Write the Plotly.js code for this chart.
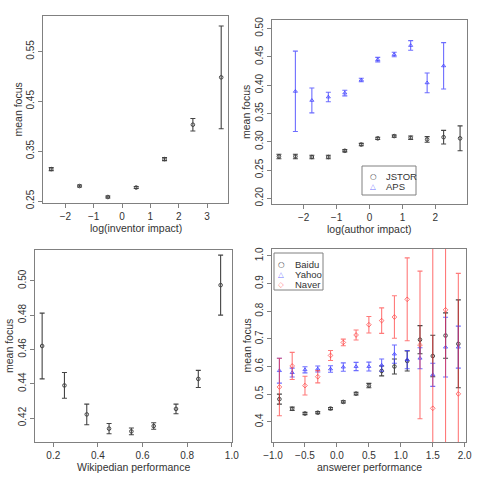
<!DOCTYPE html>
<html>
<head>
<meta charset="utf-8">
<script src="https://cdn.plot.ly/plotly-3.0.1.min.js"></script>
<style>
  html, body { margin: 0; padding: 0; background: #fff; }
  #chart { width: 480px; height: 480px; }
</style>
</head>
<body>
<div id="chart"></div>
<script>
// ── Data ──────────────────────────────────────────────────────────────────────

// top-left: inventors
const invX = [-2.5, -1.5, -0.5, 0.5, 1.5, 2.5, 3.5];
const invY = [0.314, 0.280, 0.258, 0.277, 0.334, 0.403, 0.498];
const invErr = [0.003, 0.002, 0.002, 0.002, 0.003, 0.0125, 0.103];

// top-right: authors
const jstorX = [-2.75, -2.25, -1.75, -1.25, -0.75, -0.25, 0.25, 0.75, 1.25, 1.75, 2.25, 2.75];
const jstorY = [0.274, 0.274, 0.273, 0.273, 0.284, 0.295, 0.306, 0.310, 0.307, 0.304, 0.308, 0.306];
const jstorErr = [0.004, 0.004, 0.003, 0.003, 0.002, 0.002, 0.002, 0.002, 0.003, 0.005, 0.012, 0.022];

const apsX = [-2.25, -1.75, -1.25, -0.75, -0.25, 0.25, 0.75, 1.25, 1.75, 2.25];
const apsY = [0.389, 0.373, 0.379, 0.386, 0.409, 0.445, 0.454, 0.470, 0.404, 0.434];
const apsErr = [0.071, 0.022, 0.0085, 0.005, 0.003, 0.004, 0.004, 0.0085, 0.0175, 0.041];

// bottom-left: Wikipedia
const wikiX = [0.15, 0.25, 0.35, 0.45, 0.55, 0.65, 0.75, 0.85, 0.95];
const wikiY = [0.462, 0.439, 0.4221, 0.4138, 0.4122, 0.4153, 0.4253, 0.4428, 0.4975];
const wikiErr = [0.0192, 0.0075, 0.006, 0.003, 0.002, 0.0019, 0.0028, 0.005, 0.0175];

// bottom-right: Q&A sites
const qaX = [-0.9, -0.7, -0.5, -0.3, -0.1, 0.1, 0.3, 0.5, 0.7, 0.9, 1.1, 1.3, 1.5, 1.7, 1.9];
const baiduY = [0.482, 0.447, 0.430, 0.433, 0.448, 0.472, 0.502, 0.531, 0.584, 0.600, 0.620, 0.697, 0.638, 0.712, 0.682];
const baiduErr = [0.018, 0.006, 0.004, 0.004, 0.004, 0.004, 0.005, 0.008, 0.018, 0.027, 0.036, 0.051, 0.075, 0.082, 0.159];
const yahooY = [0.585, 0.578, 0.588, 0.591, 0.591, 0.598, 0.600, 0.600, 0.605, 0.645, 0.625, 0.630, 0.570, 0.670, 0.670];
const yahooErr = [0.045, 0.016, 0.011, 0.011, 0.012, 0.015, 0.015, 0.016, 0.022, 0.033, 0.033, 0.038, 0.042, 0.108, 0.076];
const naverY = [0.526, 0.602, 0.531, 0.563, 0.640, 0.687, 0.714, 0.751, 0.766, 0.779, 0.843, 0.678, 0.449, 0.805, 0.501];
const naverErr = [0.104, 0.049, 0.034, 0.022, 0.018, 0.012, 0.018, 0.030, 0.046, 0.077, 0.150, 0.267, 0.9, 0.9, 0.436];

const legendTop = ["JSTOR", "APS"];
const legendBottom = ["Baidu", "Yahoo", "Naver"];
const xTitles = ["log(inventor impact)", "log(author impact)", "Wikipedian performance", "answerer performance"];
const yTitle = "mean focus";

// ── Styles ────────────────────────────────────────────────────────────────────

const BLACK = "#444444";
const BLUE = "rgba(60,60,255,0.75)";
const RED = "rgba(255,50,50,0.65)";
const FONT = "Liberation Sans, Arial, sans-serif";
const W = 480, H = 480;

// panel boxes in px: [left, right, top, bottom]
const boxes = [
  [43, 228, 16, 203],
  [272, 467, 20, 204],
  [35, 232, 250, 442],
  [272, 466, 249, 442],
];

function series(x, y, err, color, symbol, xa, ya) {
  return {
    type: "scatter",
    mode: "markers",
    x, y,
    xaxis: xa, yaxis: ya,
    showlegend: false,
    marker: { symbol, size: 3.6, color, line: { width: 1 } },
    error_y: { type: "data", array: err, visible: true, color, thickness: 1.1, width: 2.5 },
    hoverinfo: "x+y",
  };
}

function axis(box, isY, range, dtick, tick0, fmt, anchor) {
  const domain = isY
    ? [1 - box[3] / H, 1 - box[2] / H]
    : [box[0] / W, box[1] / W];
  return {
    domain, range, dtick, tick0, tickformat: fmt,
    anchor,
    showgrid: false, zeroline: false,
    showline: true, mirror: true, linecolor: "#808080", linewidth: 1,
    ticks: "outside", ticklen: 4, tickcolor: "#808080",
    tickangle: isY ? -90 : 0,
    tickfont: { size: 10, color: "#333", family: FONT },
  };
}

const traces = [
  series(invX, invY, invErr, BLACK, "circle-open", "x", "y"),
  series(jstorX, jstorY, jstorErr, BLACK, "circle-open", "x2", "y2"),
  series(apsX, apsY, apsErr, BLUE, "triangle-up-open", "x2", "y2"),
  series(wikiX, wikiY, wikiErr, BLACK, "circle-open", "x3", "y3"),
  series(qaX, baiduY, baiduErr, BLACK, "circle-open", "x4", "y4"),
  series(qaX, yahooY, yahooErr, BLUE, "triangle-up-open", "x4", "y4"),
  series(qaX, naverY, naverErr, RED, "diamond-open", "x4", "y4"),
];

const shapes = [];
const annotations = [];

// ── Axis titles (R places them at a fixed line offset from the box) ───────────

boxes.forEach((b, i) => {
  annotations.push({
    xref: "paper", yref: "paper",
    x: (b[0] + b[1]) / 2 / W, y: 1 - (b[3] + 25) / H,
    text: xTitles[i], showarrow: false, xanchor: "center", yanchor: "middle",
    font: { size: 10.5, color: "#333", family: FONT },
  });
  annotations.push({
    xref: "paper", yref: "paper",
    x: (b[0] - 26) / W, y: 1 - (b[2] + b[3]) / 2 / H,
    text: yTitle, textangle: -90, showarrow: false, xanchor: "center", yanchor: "middle",
    font: { size: 10.5, color: "#333", family: FONT },
  });
});

// ── Legends (R-style boxed keys) ──────────────────────────────────────────────

function addLegend(box, symX, textX, rows, labels, glyphs, colors) {
  shapes.push({
    type: "rect", xref: "paper", yref: "paper",
    x0: box[0] / W, x1: box[1] / W, y0: 1 - box[3] / H, y1: 1 - box[2] / H,
    line: { color: "#808080", width: 1 }, fillcolor: "#fff",
  });
  labels.forEach((lab, i) => {
    annotations.push({
      xref: "paper", yref: "paper", x: symX / W, y: 1 - rows[i] / H,
      text: glyphs[i], showarrow: false, xanchor: "center", yanchor: "middle",
      font: { size: 7.5, color: colors[i], family: "DejaVu Sans" },
    });
    annotations.push({
      xref: "paper", yref: "paper", x: textX / W, y: 1 - rows[i] / H,
      text: lab, showarrow: false, xanchor: "left", yanchor: "middle",
      font: { size: 9.5, color: "#333", family: FONT },
    });
  });
}

addLegend([362, 416, 166, 195], 373, 384, [176, 186.5], legendTop,
  ["○", "△"], [BLACK, BLUE]);
addLegend([274, 323, 253, 290], 281, 293, [264.5, 274.5, 284.5], legendBottom,
  ["○", "△", "◇"], [BLACK, BLUE, RED]);

const layout = {
  width: W, height: H,
  margin: { t: 0, r: 0, b: 0, l: 0 },
  paper_bgcolor: "#fff", plot_bgcolor: "#fff",
  font: { family: FONT, color: "#333" },
  showlegend: false,

  xaxis: axis(boxes[0], false, [-2.79, 3.74], 1, 0, "", "y"),
  yaxis: axis(boxes[0], true, [0.246, 0.621], 0.1, 0.25, ".2f", "x"),

  xaxis2: axis(boxes[1], false, [-2.96, 2.96], 1, 0, "", "y2"),
  yaxis2: axis(boxes[1], true, [0.190, 0.515], 0.05, 0.2, ".2f", "x2"),

  xaxis3: axis(boxes[2], false, [0.118, 1.001], 0.2, 0.2, ".1f", "y3"),
  yaxis3: axis(boxes[2], true, [0.406, 0.518], 0.02, 0.42, ".2f", "x3"),

  xaxis4: axis(boxes[3], false, [-1.016, 2.02], 0.5, 0, ".1f", "y4"),
  yaxis4: axis(boxes[3], true, [0.327, 1.025], 0.1, 0.4, ".1f", "x4"),

  shapes,
  annotations,
};

Plotly.newPlot("chart", traces, layout, { displayModeBar: false, staticPlot: true });
</script>
</body>
</html>
